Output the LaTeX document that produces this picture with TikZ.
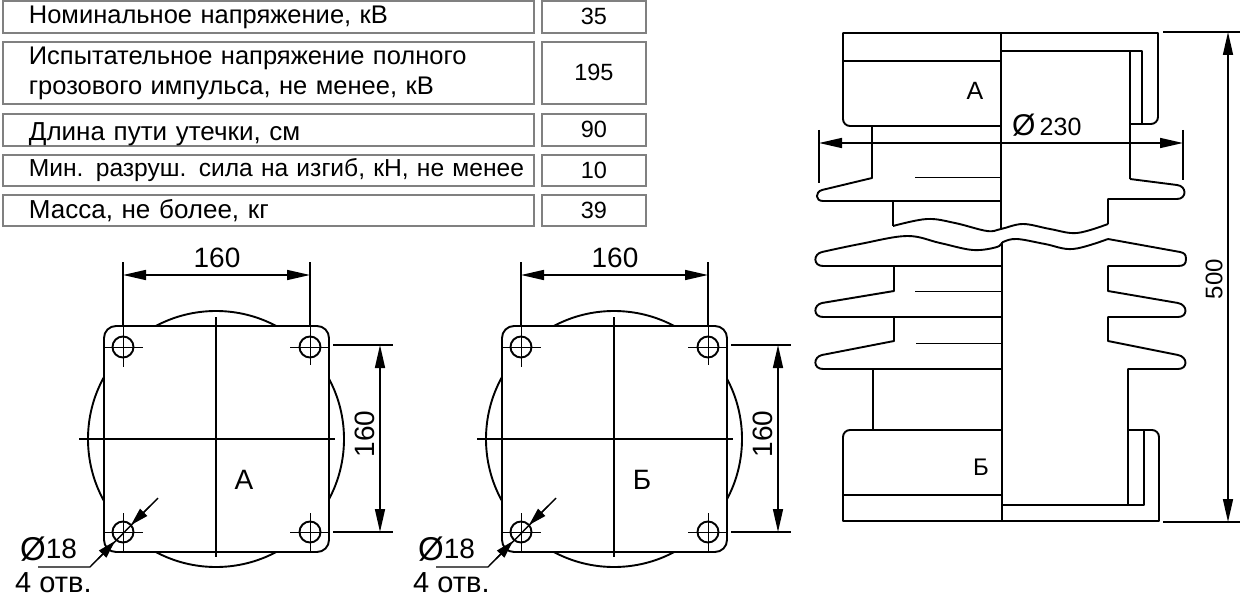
\documentclass[tikz,border=0pt]{standalone}
\usepackage{fontspec}
\setmainfont{Liberation Sans}
\usetikzlibrary{arrows.meta}
\newcommand{\dia}{\raisebox{-2pt}{\fontsize{33}{33}\selectfont Ø}}
\tikzset{
  rowbox/.style={draw=black!50, line width=1.8pt, anchor=north west, align=left, inner xsep=26pt, inner ysep=0pt,
    font=\fontsize{25.5}{30}\selectfont, minimum width=531pt, text width=479pt},
  valbox/.style={draw=black!50, line width=1.8pt, anchor=north west, align=center, inner sep=0pt,
    font=\fontsize{23.5}{29}\selectfont, minimum width=104pt},
  part/.style={line width=1.9pt, line join=round},
  thinpart/.style={line width=1pt},
  dimline/.style={line width=1.6pt, {Triangle[length=23pt,width=10pt]}-{Triangle[length=23pt,width=10pt]}},
  extline/.style={line width=1.4pt},
  leadtip/.style={line width=1.4pt, -{Triangle[length=18pt,width=10pt]}},
  dimtext/.style={inner sep=0pt, font=\fontsize{28}{28}\selectfont}
}
\begin{document}
\begin{tikzpicture}[x=1pt,y=-1pt]
\useasboundingbox (0,0) rectangle (1240,599);
% the table
\node[rowbox, minimum height=32pt] (row1) at (2,0) {Номинальное напряжение, кВ};
\node[rowbox, minimum height=62pt] (row2) at (2,41) {Испытательное напряжение полного\\грозового импульса, не менее, кВ};
\node[rowbox, minimum height=32pt, font=\fontsize{26}{30}\selectfont] (row3) at (2,113) {\raisebox{-11pt}[0pt][0pt]{Длина пути утечки, см}};
\node[rowbox, minimum height=31pt, font=\fontsize{24.6}{30}\selectfont] (row4) at (2,154) {\mbox{Мин. разруш. сила на изгиб, кН, не менее}};
\node[rowbox, minimum height=31pt, font=\fontsize{26}{30}\selectfont] (row5) at (2,194) {Масса, не более, кг};
\foreach \y/\h/\v in {0/32/35,41/62/195,113/32/90,154/31/10,194/31/39}
  \node[valbox, minimum height=\h pt] (val\v) at (541,\y) {\v};
% the two flanges
\foreach \dx/\lab in {0/А,398/Б}
{
\begin{scope}[xshift=\dx pt]
  \draw[part] (216,439) circle (128);
  \draw[part, fill=white] (104,338) arc (180:270:12) -- (317,326) arc (270:360:12) -- (329,540) arc (0:90:12) -- (116,552) arc (90:180:12) -- cycle;
  % holes with their cross lines
  \foreach \hx/\hy/\xa/\xb/\ya/\yb in {123/347/104/143/326/367,310/347/290/329/326/365,123/532/104/143/513/552,310/532/290/329/513/552}
  {
    \draw[part] (\hx,\hy) circle (10.5);
    \draw[thinpart] (\xa,\hy) -- (\xb,\hy);
    \draw[thinpart] (\hx,\ya) -- (\hx,\yb);
  }
  \draw[part] (216,317) -- (216,557);
  \draw[part] (79,439) -- (335,439);
  \node[dimtext] (flange\dx) at (244,480) {\lab};
  % 160 across
  \draw[extline] (123,262) -- (123,326);
  \draw[extline] (310,262) -- (310,326);
  \draw[dimline] (123,275) -- (310,275);
  \node[dimtext] (top\dx) at (217,258) {160};
  % 160 down
  \draw[extline] (333,345) -- (393,345);
  \draw[extline] (333,532) -- (393,532);
  \draw[dimline] (380,345) -- (380,532);
  \node[dimtext, rotate=90] (side\dx) at (365,434) {160};
  % holes note
  \draw[extline] (158,498) -- (90,567) -- (38,567);
  \draw[leadtip] (150,506) -- (131,525);
  \draw[leadtip] (98,559) -- (115,541);
  \node[dimtext, anchor=west] (dia\dx) at (20,549) {\dia 18};
  \node[dimtext, anchor=west, font=\fontsize{29}{29}\selectfont] (holes\dx) at (15,583) {4 отв.};
\end{scope}
}
% the insulator, upper fitting
\draw[part] (1001,126) -- (850,126) arc (90:180:7) -- (843,33) -- (1158,33) -- (1158,117) arc (0:90:7) -- (1130,124);
\draw[part] (843,61) -- (1001,61);
\draw[part] (1001,51) -- (1142,51) -- (1142,124);
\draw[part] (1001,33) -- (1001,229);
\draw[part] (1130,51) -- (1130,179);
% upper shed
\draw[part] (872,126) -- (872,178) -- (822,190) .. controls (815,192) and (815,201) .. (823,201) -- (1001,201);
\draw[part] (893,201) -- (893,226);
\draw[part] (1130,179) -- (1177,185) .. controls (1187,186) and (1187,199) .. (1177,199) -- (1108,199) -- (1108,224);
% the break
\draw[part] plot[smooth, tension=0.6] coordinates {(893,226) (927,219) (955,223) (987,231) (1001,229) (1023,224) (1050,229) (1077,233) (1108,224)};
\draw[part] (1186,259) .. controls (1186,254) and (1184,253) .. (1180,252) -- (1108,239);
\draw[part] plot[smooth, tension=0.6] coordinates {(1108,239) (1073,249) (1045,244) (1017,239) (1003,242) (997,247) (973,250) (940,243) (907,236) (860,244) (822,252)};
% lower sheds
\draw[part] (822,252) .. controls (813,254) and (813,266) .. (823,266) -- (1002,266);
\draw[part] (1186,259) .. controls (1186,264) and (1184,266) .. (1178,266) -- (1108,266) -- (1108,291) -- (1178,303) .. controls (1188,305) and (1188,317) .. (1178,317) -- (1108,317) -- (1108,341) -- (1178,355) .. controls (1188,357) and (1188,369) .. (1178,369) -- (1128,369) -- (1128,505);
\draw[part] (894,266) -- (894,291) -- (822,303) .. controls (813,305) and (813,317) .. (823,317) -- (1002,317);
\draw[part] (894,317) -- (894,341) -- (822,355) .. controls (813,357) and (813,369) .. (823,369) -- (1002,369);
\draw[part] (873,369) -- (873,430);
\draw[thinpart] (915,178) -- (1001,178);
\draw[thinpart] (915,291) -- (1002,291);
\draw[thinpart] (916,343) -- (1002,343);
% lower fitting
\draw[part] (1002,242) -- (1002,521);
\draw[part] (1002,430) -- (850,430) arc (270:180:7) -- (843,521) -- (1159,521) -- (1159,437) arc (0:-90:7) -- (1128,430);
\draw[part] (843,495) -- (1002,495);
\draw[part] (1002,505) -- (1144,505) -- (1144,430);
\node[dimtext, font=\fontsize{25}{25}\selectfont] (capA) at (975,91) {А};
\node[dimtext, font=\fontsize{24}{24}\selectfont] (capB) at (981,467) {Б};
% 230
\draw[extline] (819,130) -- (819,183);
\draw[extline] (1183,130) -- (1183,180);
\draw[dimline] (819,143) -- (1183,143);
\node[dimtext, font=\fontsize{25}{25}\selectfont, anchor=west] (dia230) at (1012,125) {\fontsize{30}{30}\selectfont Ø\fontsize{25}{25}\selectfont\,230};
% 500
\draw[extline] (1163,32) -- (1240,32);
\draw[extline] (1163,522) -- (1240,522);
\draw[dimline] (1228,32) -- (1228,522);
\node[dimtext, font=\fontsize{24}{24}\selectfont, rotate=90] (len500) at (1214,279) {500};
\end{tikzpicture}
\end{document}
